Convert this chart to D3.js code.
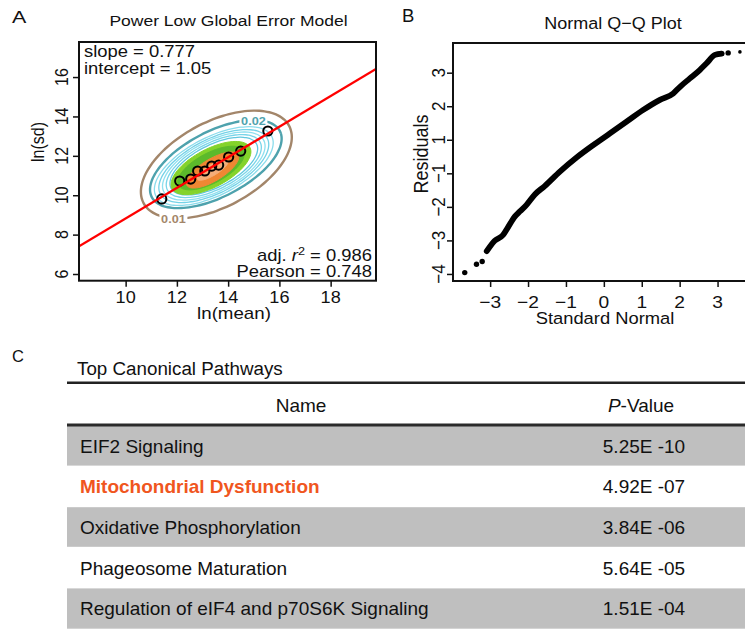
<!DOCTYPE html>
<html><head><meta charset="utf-8">
<script src="https://cdn.jsdelivr.net/npm/d3@7"></script>
<style>body{margin:0;background:#fff}svg{display:block}text{font-family:"Liberation Sans",Arial,Helvetica,sans-serif}</style>
</head><body><svg id="chart" width="745" height="629"></svg>
<script>
// ---------- Panel A data ----------
const binMeanLn = [11.41, 12.11, 12.54, 12.81, 13.09, 13.36, 13.63, 14.02, 14.49, 15.55];
const binSdLn   = [9.81, 10.72, 10.82, 11.23, 11.23, 11.48, 11.53, 11.94, 12.24, 13.26];
const fitSlope = 0.777;
const fitIntercept = 1.05;
const adjR2 = "0.986";
const pearson = "0.748";
const contourLevels    = ["0.01", "0.02", "0.03", "0.04", "0.05", "0.06", "0.07", "0.08", "0.09", "0.10", "0.11"];
const contourCenterX   = [13.54, 13.52, 13.44, 13.44, 13.44, 13.44, 13.44, 13.33, 13.33, 13.39, 13.39];
const contourCenterY   = [11.56, 11.58, 11.48, 11.48, 11.48, 11.48, 11.48, 11.38, 11.38, 11.28, 11.28];
const contourHalfSpan  = [2.84, 2.50, 2.26, 2.09, 1.95, 1.81, 1.67, 1.52, 1.27, 1.00, 0.60];
const contourHalfWidth = [1.66, 1.28, 1.13, 1.05, 0.98, 0.90, 0.82, 0.74, 0.59, 0.43, 0.21];
const contourTilt      = [0.69, 0.67, 0.67, 0.67, 0.67, 0.67, 0.67, 0.69, 0.69, 0.78, 0.78];
const xTicksA = [10, 12, 14, 16, 18];
const yTicksA = [6, 8, 10, 12, 14, 16];

// ---------- Panel B data ----------
const qqTheoretical = [-3.09, -2.88, -2.66, -2.53, -2.35, -2.22, -2.04, -1.82, -1.56, -1.16, -0.72, -0.28, 0.16, 0.60, 1.04, 1.48, 1.83, 2.01, 2.27, 2.53, 2.71, 2.93, 3.11];
const qqResidual    = [-2.32, -2.01, -1.84, -1.61, -1.29, -1.14, -0.94, -0.63, -0.38, 0.05, 0.47, 0.84, 1.19, 1.54, 1.89, 2.19, 2.38, 2.58, 2.83, 3.08, 3.28, 3.53, 3.57];
const qqOutlierX = [-3.67, -3.36, -3.21, 3.28, 3.59];
const qqOutlierY = [-2.96, -2.71, -2.63, 3.59, 3.62];
const xTicksB = [-3, -2, -1, 0, 1, 2, 3];
const xTickLabelsB = ["\u22123", "\u22122", "\u22121", "0", "1", "2", "3"];
const yTicksB = [3, 2, 1, 0, -1, -2, -3];
const yTickLabelsB = ["3", "2", "1", "\u22121", "\u22122", "\u22123", "\u22124"];

// ---------- Panel C data ----------
const pathwayNames = ["EIF2 Signaling", "Mitochondrial Dysfunction", "Oxidative Phosphorylation", "Phageosome Maturation", "Regulation of eIF4 and p70S6K Signaling"];
const pathwayPValues = ["5.25E -10", "4.92E -07", "3.84E -06", "5.64E -05", "1.51E -04"];
const highlightedPathway = "Mitochondrial Dysfunction";

// ---------- drawing ----------
const svg = d3.select("#chart");
const SX = 1.13;

function txt(g, x, y, s, o = {}) {
  const rot = o.rotate || 0;
  const sc = rot ? `scale(1,${o.sx || 1})` : `scale(${o.sx || 1},1)`;
  const t = g.append("text")
    .attr("transform", `translate(${x},${y}) rotate(${rot}) ${sc}`)
    .attr("font-size", o.size || 16)
    .attr("text-anchor", o.anchor || "start")
    .attr("fill", o.fill || "#111");
  if (o.weight) t.attr("font-weight", o.weight);
  if (s !== null) t.text(s);
  return t;
}

// ===== Panel A =====
const gA = svg.append("g");
const xA = d3.scaleLinear().domain([8.18, 19.77]).range([79, 376]);
const yA = d3.scaleLinear().domain([5.66, 17.78]).range([280.7, 42]);

svg.append("clipPath").attr("id", "clipA").append("rect")
  .attr("x", xA.range()[0]).attr("y", yA.range()[1])
  .attr("width", xA.range()[1] - xA.range()[0]).attr("height", yA.range()[0] - yA.range()[1]);

const contourColors = ["#a3866a", "#4ea2ad", "#8adcec", "#74d2e7", "#8fe0ef", "#79d5e9", "#62c8df", "#84d32b", "#5cba2b", "#ef8733", "#f4ad78"];
const contourFilled = [false, false, false, false, false, false, false, true, true, true, true];

function ellipseFrame(i) {
  const cx = xA(contourCenterX[i]), cy = yA(contourCenterY[i]);
  const ax = xA(contourCenterX[i] + contourHalfSpan[i]) - cx;
  const ay = yA(contourCenterY[i] + contourHalfSpan[i] * contourTilt[i]) - cy;
  const len = Math.hypot(ax, ay);
  const w = xA(contourCenterX[i] + contourHalfWidth[i]) - cx;
  return {cx, cy, ax, ay, bx: -ay / len * w, by: ax / len * w};
}
function ellipseAt(i, deg) {
  const f = ellipseFrame(i), t = deg * Math.PI / 180;
  return [f.cx + Math.cos(t) * f.ax + Math.sin(t) * f.bx, f.cy + Math.cos(t) * f.ay + Math.sin(t) * f.by];
}
const closedLine = d3.line().curve(d3.curveCardinalClosed);
const gCont = gA.append("g").attr("clip-path", "url(#clipA)");
contourLevels.forEach((lv, i) => {
  gCont.append("path").attr("d", closedLine(d3.range(0, 360, 5).map(d => ellipseAt(i, d))))
    .attr("fill", contourFilled[i] ? contourColors[i] : "none")
    .attr("stroke", contourColors[i])
    .attr("stroke-width", i < 2 ? 2.4 : (contourFilled[i] ? 1 : 1.3));
});
// contour labels
const labelSpec = [[0, 140], [1, -42]];
labelSpec.forEach(([i, deg]) => {
  const [px, py] = ellipseAt(i, deg);
  gCont.append("rect").attr("x", px - 14).attr("y", py - 6).attr("width", 28).attr("height", 12).attr("fill", "#fff");
  txt(gCont, px, py + 4.5, contourLevels[i], {size: 11.5, anchor: "middle", fill: contourColors[i], weight: "bold", sx: 1.1});
});

// binned points
gA.append("g").selectAll("circle").data(binMeanLn).join("circle")
  .attr("cx", d => xA(d)).attr("cy", (d, i) => yA(binSdLn[i])).attr("r", 4.6)
  .attr("fill", "none").attr("stroke", "#000").attr("stroke-width", 2);

// fit line
const xd = xA.domain();
gA.append("line").attr("clip-path", "url(#clipA)")
  .attr("x1", xA(xd[0])).attr("y1", yA(fitSlope * xd[0] + fitIntercept))
  .attr("x2", xA(xd[1])).attr("y2", yA(fitSlope * xd[1] + fitIntercept))
  .attr("stroke", "#ff0000").attr("stroke-width", 2.4);

// box & axes
gA.append("rect").attr("x", xA.range()[0]).attr("y", yA.range()[1])
  .attr("width", xA.range()[1] - xA.range()[0]).attr("height", yA.range()[0] - yA.range()[1])
  .attr("fill", "none").attr("stroke", "#111").attr("stroke-width", 2);
const axA = gA.append("g").attr("transform", `translate(0,${yA.range()[0]})`)
  .call(d3.axisBottom(xA).tickValues(xTicksA).tickSize(6).tickSizeOuter(0).tickFormat(""));
const ayA = gA.append("g").attr("transform", `translate(${xA.range()[0]},0)`)
  .call(d3.axisLeft(yA).tickValues(yTicksA).tickSize(6).tickSizeOuter(0).tickFormat(""));
[axA, ayA].forEach(a => { a.selectAll("line").attr("stroke", "#111").attr("stroke-width", 1.5); a.select(".domain").attr("stroke", "none"); });
xTicksA.forEach(v => txt(gA, xA(v), 303, String(v), {size: 16, anchor: "middle", sx: SX}));
yTicksA.forEach(v => txt(gA, 68, yA(v), String(v), {size: 16, anchor: "middle", rotate: -90, sx: SX}));

txt(gA, 12, 22.5, "A", {size: 16.5, sx: 1.3});
txt(gA, 228.5, 26, "Power Low Global Error Model", {size: 15.5, anchor: "middle", sx: SX});
txt(gA, 234, 318.5, "ln(mean)", {size: 16, anchor: "middle", sx: 1.17});
txt(gA, 44, 142, "ln(sd)", {size: 16, anchor: "middle", rotate: -90, sx: 1.17});
txt(gA, 84, 57, "slope = " + fitSlope, {size: 16, sx: 1.15});
txt(gA, 84, 74, "intercept = " + fitIntercept.toFixed(2), {size: 16, sx: 1.15});
const r2 = txt(gA, 372, 261, null, {size: 16, anchor: "end", sx: 1.15});
r2.append("tspan").text("adj. ");
r2.append("tspan").attr("font-style", "italic").text("r");
r2.append("tspan").attr("font-size", 11).attr("dy", -6).text("2");
r2.append("tspan").attr("dy", 6).text(" = " + adjR2);
txt(gA, 372, 277, "Pearson = " + pearson, {size: 16, anchor: "end", sx: 1.15});

// ===== Panel B =====
const gB = svg.append("g");
const xB = d3.scaleLinear().domain([-3.98, 3.98]).range([453, 754.7]);
const yB = d3.scaleLinear().domain([-3.21, 3.885]).range([281, 43]);

const qqLine = d3.line().x(d => xB(d[0])).y(d => yB(d[1])).curve(d3.curveMonotoneX);
gB.append("path").attr("d", qqLine(qqTheoretical.map((v, i) => [v, qqResidual[i]])))
  .attr("fill", "none").attr("stroke", "#000").attr("stroke-width", 5.8)
  .attr("stroke-linejoin", "round").attr("stroke-linecap", "round");
gB.append("g").selectAll("circle").data(qqOutlierX).join("circle")
  .attr("cx", d => xB(d)).attr("cy", (d, i) => yB(qqOutlierY[i]))
  .attr("r", (d, i) => i === qqOutlierX.length - 1 ? 1.8 : 2.7).attr("fill", "#000");

gB.append("rect").attr("x", xB.range()[0]).attr("y", yB.range()[1])
  .attr("width", xB.range()[1] - xB.range()[0]).attr("height", yB.range()[0] - yB.range()[1])
  .attr("fill", "none").attr("stroke", "#111").attr("stroke-width", 2);
const axB = gB.append("g").attr("transform", `translate(0,${yB.range()[0]})`)
  .call(d3.axisBottom(xB).tickValues(xTicksB).tickSize(6).tickSizeOuter(0).tickFormat(""));
const ayB = gB.append("g").attr("transform", `translate(${xB.range()[0]},0)`)
  .call(d3.axisLeft(yB).tickValues(yTicksB).tickSize(6).tickSizeOuter(0).tickFormat(""));
[axB, ayB].forEach(a => { a.selectAll("line").attr("stroke", "#111").attr("stroke-width", 1.5); a.select(".domain").attr("stroke", "none"); });
xTicksB.forEach((v, i) => txt(gB, xB(v), 308, xTickLabelsB[i], {size: 17, anchor: "middle", sx: SX}));
yTicksB.forEach((v, i) => txt(gB, 445, yB(v), yTickLabelsB[i], {size: 17, anchor: "middle", rotate: -90, sx: SX}));

txt(gB, 402, 21.7, "B", {size: 18.5});
txt(gB, 613, 28.5, "Normal Q\u2212Q Plot", {size: 17, anchor: "middle", sx: 1.06});
txt(gB, 605, 324, "Standard Normal", {size: 17, anchor: "middle", sx: 1.08});
txt(gB, 428, 154, "Residuals", {size: 18, anchor: "middle", rotate: -90, sx: 1.15});

// ===== Panel C =====
const gC = svg.append("g");
const tableLeft = 67, tableRight = 745;
const rowBand = d3.scaleBand().domain(pathwayNames).range([425.5, 628.5]);
txt(gC, 12, 361.7, "C", {size: 16.5});
txt(gC, 77, 374.5, "Top Canonical Pathways", {size: 18.8});
gC.append("line").attr("x1", tableLeft).attr("x2", tableRight).attr("y1", 382.7).attr("y2", 382.7)
  .attr("stroke", "#222").attr("stroke-width", 2.5);
txt(gC, 301, 412, "Name", {size: 19, anchor: "middle"});
const ph = txt(gC, 641, 412, null, {size: 19, anchor: "middle"});
ph.append("tspan").attr("font-style", "italic").text("P");
ph.append("tspan").text("-Value");
gC.selectAll("rect.row").data(pathwayNames).join("rect").attr("class", "row")
  .attr("x", tableLeft).attr("width", tableRight - tableLeft)
  .attr("y", d => rowBand(d) + 0.5).attr("height", rowBand.bandwidth() - 1)
  .attr("fill", (d, i) => i % 2 === 0 ? "#bfbfbf" : "#ffffff");
gC.append("line").attr("x1", tableLeft).attr("x2", tableRight).attr("y1", 425).attr("y2", 425)
  .attr("stroke", "#2a2a2a").attr("stroke-width", 3);
gC.append("line").attr("x1", tableLeft).attr("x2", tableRight).attr("y1", 628.3).attr("y2", 628.3)
  .attr("stroke", "#c8c8c8").attr("stroke-width", 1);
pathwayNames.forEach((n, i) => {
  const yy = rowBand(n) + rowBand.bandwidth() / 2 + 7;
  const hl = n === highlightedPathway;
  txt(gC, 80, yy, n, {size: 19, fill: hl ? "#f0561e" : "#111", weight: hl ? "bold" : null});
  txt(gC, 644, yy, pathwayPValues[i], {size: 19, anchor: "middle"});
});
</script></body></html>
